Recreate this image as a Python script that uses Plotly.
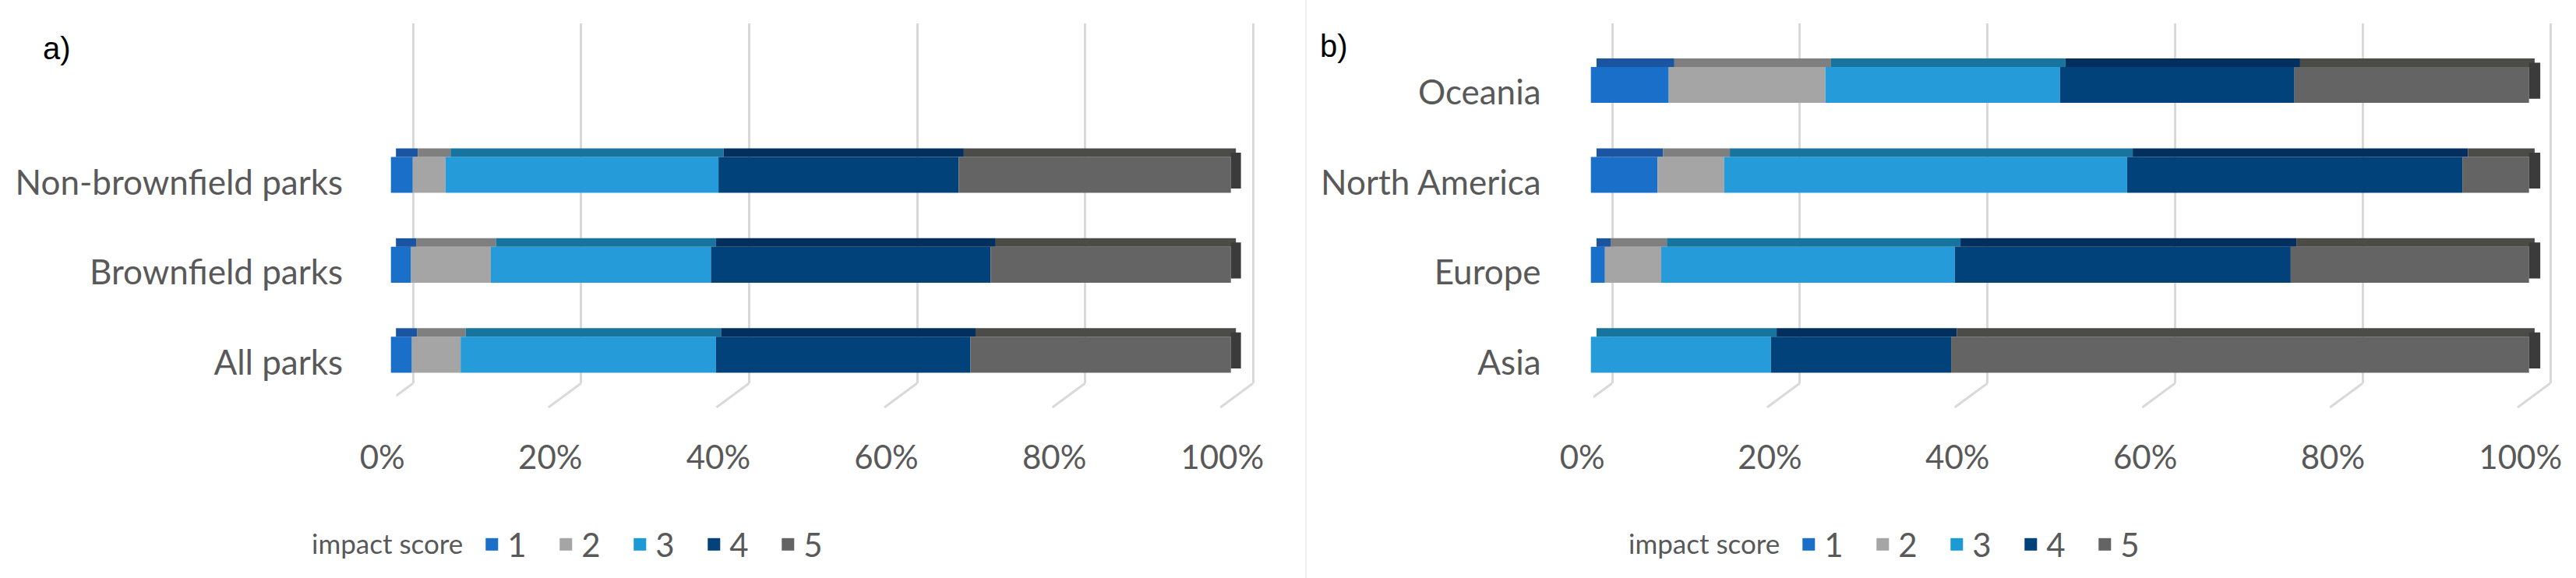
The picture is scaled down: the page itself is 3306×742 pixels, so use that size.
import plotly.graph_objects as go

# ---------------- data (percent of parks per impact score) ----------------
score_labels = ["1", "2", "3", "4", "5"]

cats_a = ["All parks", "Brownfield parks", "Non-brownfield parks"]
a_s1 = [2.5, 2.4, 2.6]
a_s2 = [5.8, 9.5, 3.9]
a_s3 = [30.4, 26.2, 32.5]
a_s4 = [30.3, 33.3, 28.6]
a_s5 = [31.0, 28.6, 32.4]

cats_b = ["Asia", "Europe", "North America", "Oceania"]
b_s1 = [0.0, 1.5, 7.1, 8.3]
b_s2 = [0.0, 6.0, 7.1, 16.7]
b_s3 = [19.2, 31.3, 42.9, 25.0]
b_s4 = [19.2, 35.8, 35.7, 25.0]
b_s5 = [61.6, 25.4, 7.1, 25.0]

tick_vals = [0, 0.2, 0.4, 0.6, 0.8, 1.0]

# ---------------- styles ----------------
front_colors = ["#1a6fc9", "#a5a5a5", "#259cd9", "#02427a", "#646464"]
top_colors = ["#1b54a0", "#7f7f7f", "#17749f", "#022f5e", "#4b4b47"]
side_color = "#3b3b3b"
legend_colors = ["#1a6fc9", "#a5a5a5", "#1c9ad6", "#02427a", "#646464"]
grid_color = "#d9d9d9"
text_color = "#595959"
FONT = "Lato"

W, H = 3306, 742
SHIFT = 0.012      # depth offset of the 3D faces (fraction of axis)
FRONT_W = 0.4      # bar thickness (category units)
TOP_W = 0.095      # visible top face thickness


def fx(p):
    return p / W


def fy(p):
    return 1 - p / H


panels = [
    dict(cats=cats_a, series=[a_s1, a_s2, a_s3, a_s4, a_s5], front0=501.7, fw=1078.0,
         grid0=530.2, gx="x", gy="y", bx="x3", by="y3", legend="legend"),
    dict(cats=cats_b, series=[b_s1, b_s2, b_s3, b_s4, b_s5], front0=2041.7, fw=1204.0,
         grid0=2069.0, gx="x2", gy="y2", bx="x4", by="y4", legend="legend2"),
]

fig = go.Figure()

for p in panels:
    cats = p["cats"]
    n = len(cats)
    totals = [sum(s[j] for s in p["series"]) for j in range(n)]
    fracs = [[s[j] / totals[j] for j in range(n)] for s in p["series"]]
    cum = [0.0] * n
    for i, fr in enumerate(fracs):
        base = list(cum)
        # front face
        fig.add_trace(go.Bar(
            y=cats, x=fr, base=base, orientation="h", width=FRONT_W, offset=-FRONT_W / 2,
            marker=dict(color=front_colors[i], line=dict(width=0)),
            showlegend=False, xaxis=p["bx"], yaxis=p["by"], name=score_labels[i],
            hoverinfo="skip"))
        # top face (3D look)
        fig.add_trace(go.Bar(
            y=cats, x=fr, base=[b + SHIFT / 2 for b in base], orientation="h",
            width=TOP_W, offset=FRONT_W / 2,
            marker=dict(color=top_colors[i], line=dict(width=0)),
            showlegend=False, xaxis=p["bx"], yaxis=p["by"], hoverinfo="skip"))
        cum = [c + f for c, f in zip(cum, fr)]
    # right side face
    fig.add_trace(go.Bar(
        y=cats, x=[SHIFT] * n, base=cum, orientation="h", width=FRONT_W,
        offset=-FRONT_W / 2 + TOP_W / 2,
        marker=dict(color=side_color, line=dict(width=0)),
        showlegend=False, xaxis=p["bx"], yaxis=p["by"], hoverinfo="skip"))
    # legend proxies
    for i, lab in enumerate(score_labels):
        fig.add_trace(go.Scatter(
            x=[None], y=[None], mode="markers", name=lab,
            marker=dict(symbol="square", size=16, color=legend_colors[i]),
            xaxis=p["bx"], yaxis=p["by"], legend=p["legend"], showlegend=True))

layout = dict(
    width=W, height=H, autosize=False,
    margin=dict(l=0, r=0, t=0, b=0, pad=0),
    paper_bgcolor="white", plot_bgcolor="rgba(0,0,0,0)",
    barmode="overlay",
    font=dict(family=FONT, color=text_color),
)

shapes = []
for k, p in enumerate(panels):
    gxn = "xaxis" if p["gx"] == "x" else "xaxis2"
    gyn = "yaxis" if p["gy"] == "y" else "yaxis2"
    bxn = "xaxis3" if p["bx"] == "x3" else "xaxis4"
    byn = "yaxis3" if p["by"] == "y3" else "yaxis4"
    fw = p["fw"]
    layout[gxn] = dict(
        domain=[fx(p["grid0"] - 0.02 * fw), fx(p["grid0"] + 1.02 * fw)],
        anchor=p["gy"], range=[-0.02, 1.02], tickvals=tick_vals,
        showticklabels=False, showgrid=True, gridcolor=grid_color, gridwidth=3,
        zeroline=False, showline=False, ticks="", fixedrange=True, automargin=False)
    layout[gyn] = dict(
        domain=[fy(492), fy(30)], anchor=p["gx"], range=[0, 1],
        showticklabels=False, showgrid=False, zeroline=False, showline=False,
        ticks="", fixedrange=True, automargin=False)
    layout[bxn] = dict(
        domain=[fx(p["front0"] - 0.02 * fw), fx(p["front0"] + 1.03 * fw)],
        anchor=p["by"], range=[-0.02, 1.03], tickvals=tick_vals, tickformat=".0%",
        tickfont=dict(size=42, color=text_color, family=FONT),
        showgrid=False, zeroline=False, showline=False, ticks="",
        ticklabelshift=-11, ticklabelstandoff=46, fixedrange=True, automargin=False)
    layout[byn] = dict(
        domain=[fy(513.1), fy(51.3)], anchor=p["bx"], type="category",
        categoryorder="array", categoryarray=p["cats"], range=[-0.5, 3.5],
        tickfont=dict(size=44, color=text_color, family=FONT),
        showgrid=False, zeroline=False, showline=False, ticks="",
        ticklabelstandoff=39, ticklabelshift=10, fixedrange=True, automargin=False)
    # floor lines under each gridline
    for t in tick_vals:
        shapes.append(dict(
            type="line", xref=p["gx"], yref="paper",
            xsizemode="pixel", xanchor=t, x0=0, x1=-42,
            ysizemode="pixel", yanchor=fy(492), y0=0, y1=-31,
            line=dict(color=grid_color, width=3), layer="below"))

# faint panel separator
shapes.append(dict(type="line", xref="paper", yref="paper", x0=fx(1676), x1=fx(1676),
                   y0=0, y1=1, line=dict(color="#efefef", width=2), layer="below"))
layout["shapes"] = shapes

for name, x0 in (("legend", 398), ("legend2", 2088)):
    layout[name] = dict(
        orientation="h", x=fx(x0), xanchor="left", y=fy(699), yanchor="middle",
        title=dict(text="impact score\u00a0", side="left",
                   font=dict(size=35, color=text_color, family=FONT)),
        font=dict(size=42, color=text_color, family=FONT),
        entrywidth=50, entrywidthmode="pixels",
        bgcolor="rgba(0,0,0,0)", itemclick=False, itemdoubleclick=False)

layout["annotations"] = [
    dict(text="a)", x=fx(53), y=fy(62), xref="paper", yref="paper", xanchor="left",
         yanchor="middle", showarrow=False,
         font=dict(size=40, color="black", family="Liberation Sans")),
    dict(text="b)", x=fx(1692), y=fy(59), xref="paper", yref="paper", xanchor="left",
         yanchor="middle", showarrow=False,
         font=dict(size=40, color="black", family="Liberation Sans")),
]

fig.update_layout(**layout)
fig.write_html("out.html", config={"displayModeBar": False},
               post_script="document.body.style.margin='0';")
